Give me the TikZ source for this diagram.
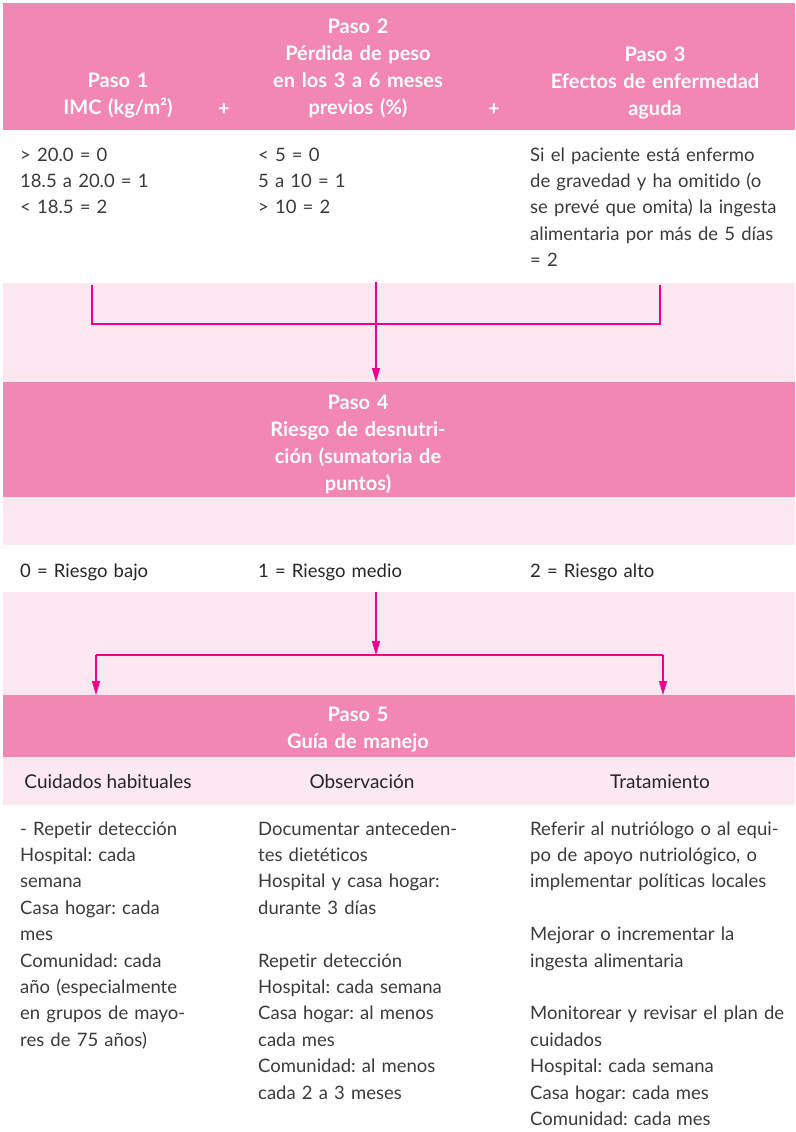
\documentclass[tikz,border=0pt]{standalone}
\usepackage{fontspec}
\setmainfont{Lato}[Ligatures=NoCommon]
\usepackage{tikz}
\usetikzlibrary{
  arrows.meta,
  positioning
}
\frenchspacing
\definecolor{RoseBand}{HTML}{F287B4}
\definecolor{RoseLight}{HTML}{FCE8F1}
\definecolor{RoseArrow}{HTML}{EC008C}
\definecolor{BodyGray}{HTML}{3A3A3A}
\tikzset{
  % Header text on dark band
  hdr/.style={
    anchor=base, inner sep=0pt, align=center, text width=#1,
    text=white, font=\fontsize{20}{27}\selectfont\bfseries
  },
  hdr/.default=260pt,
  % Body cell text
  cell/.style={
    anchor=base west, inner sep=0pt, align=left, text width=#1,
    text=BodyGray, font=\fontsize{18.5}{26.4}\selectfont
  },
  cell/.default=250pt,
  % Subheading text
  sub/.style={
    anchor=base, inner sep=0pt, align=center,
    text=black!85, font=\fontsize{19}{26}\selectfont
  },
  % Arrow
  arr/.style={
    -{Triangle[length=14pt,width=8pt]},
    line width=1.3pt, color=RoseArrow
  },
  % Plain connector line
  link/.style={line width=1.3pt, color=RoseArrow}
}
\begin{document}
\begin{tikzpicture}[x=1pt,y=-1pt]
  \useasboundingbox (0,0) rectangle (795,1132);

  % Background bands
  \fill[RoseBand]  (3,3)   rectangle (795,130);
  \fill[RoseLight] (3,283) rectangle (795,382);
  \fill[RoseBand]  (3,382) rectangle (795,497);
  \fill[RoseLight] (3,497) rectangle (795,545);
  \fill[RoseLight] (3,592) rectangle (795,695);
  \fill[RoseBand]  (3,695) rectangle (795,757);
  \fill[RoseLight] (3,757) rectangle (795,805);

  % Steps 1--3 headers
  \node[hdr=200pt] (paso1) at (118,88)  {Paso 1\\IMC (kg/m²)};
  \node[hdr=240pt] (paso2) at (358,34)  {Paso 2\\Pérdida de peso\\en los 3 a 6 meses\\previos (\%)};
  \node[hdr=270pt] (paso3) at (655,62)  {Paso 3\\Efectos de enfermedad\\aguda};
  \node[hdr=20pt]  (plus1) at (224,115) {+};
  \node[hdr=20pt]  (plus2) at (494,115) {+};

  % Scores of steps 1--3
  \node[cell=230pt] (imc)    at (20,161)  {> 20.0 = 0\\18.5 a 20.0 = 1\\< 18.5 = 2};
  \node[cell=250pt] (peso)   at (258,161) {< 5 = 0\\5 a 10 = 1\\> 10 = 2};
  \node[cell=265pt] (agudo)  at (530,161) {Si el paciente está enfermo\\de gravedad y ha omitido (o\\se prevé que omita) la ingesta\\alimentaria por más de 5 días\\= 2};

  % Step 4
  \node[hdr] (paso4) at (358,409) {Paso 4\\Riesgo de desnutri-\\ción (sumatoria de\\puntos)};

  % Risk levels
  \node[cell=230pt, text=black!85] (bajo)  at (20,577)  {0 = Riesgo bajo};
  \node[cell=250pt, text=black!85] (medio) at (258,577) {1 = Riesgo medio};
  \node[cell=265pt, text=black!85] (alto)  at (530,577) {2 = Riesgo alto};

  % Step 5
  \node[hdr] (paso5) at (358,721) {Paso 5\\Guía de manejo};
  \node[sub] (habit) at (108,788) {Cuidados habituales};
  \node[sub] (obs)   at (362,788) {Observación};
  \node[sub] (trat)  at (660,788) {Tratamiento};

  % Management details
  \node[cell=230pt] (habitx) at (20,835)  {- Repetir detección\\Hospital: cada\\semana\\Casa hogar: cada\\mes\\Comunidad: cada\\año (especialmente\\en grupos de mayo-\\res de 75 años)};
  \node[cell=250pt] (obsx)   at (258,835) {Documentar anteceden-\\tes dietéticos\\Hospital y casa hogar:\\durante 3 días\\ ~\\Repetir detección\\Hospital: cada semana\\Casa hogar: al menos\\cada mes\\Comunidad: al menos\\cada 2 a 3 meses};
  \node[cell=265pt] (tratx)  at (530,835) {Referir al nutriólogo o al equi-\\po de apoyo nutriológico, o\\implementar políticas locales\\ ~\\Mejorar o incrementar la\\ingesta alimentaria\\ ~\\Monitorear y revisar el plan de\\cuidados\\Hospital: cada semana\\Casa hogar: cada mes\\Comunidad: cada mes};

  % Connector points
  \coordinate (s1) at (92,285);
  \coordinate (s2) at (376,282);
  \coordinate (s3) at (660,285);
  \coordinate (j1) at (92,324);
  \coordinate (j3) at (660,324);
  \coordinate (e4) at (376,382);
  \coordinate (r0) at (376,592);
  \coordinate (rj) at (376,655);
  \coordinate (rl) at (96,655);
  \coordinate (rr) at (663,655);
  \coordinate (e5l) at (96,695);
  \coordinate (e5r) at (663,695);

  % Sum of steps into step 4
  \draw[link] (s1) -- (j1) -- (j3) -- (s3);
  \draw[arr]  (s2) -- (e4);

  % Risk into step 5
  \draw[arr]  (r0) -- (rj);
  \draw[link] (rl) -- (rr);
  \draw[arr]  (rl) -- (e5l);
  \draw[arr]  (rr) -- (e5r);

\end{tikzpicture}
\end{document}
